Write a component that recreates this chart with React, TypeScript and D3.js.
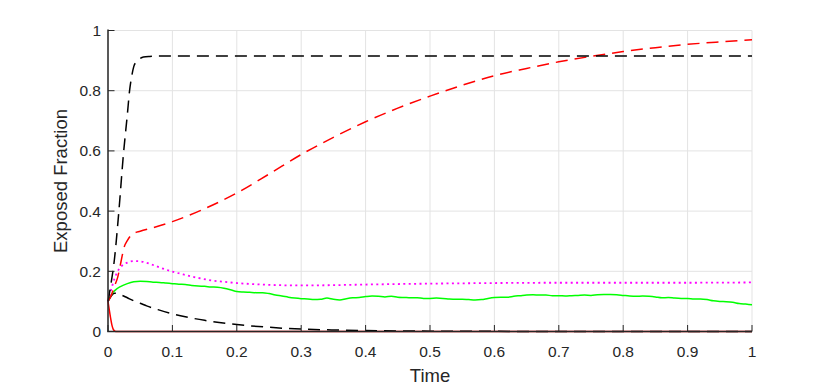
import * as d3 from "d3";

// each series: [time, exposed fraction]
const blackRise: [number, number][] = [
  [0, 0.1], [0.004, 0.15], [0.01, 0.24], [0.0165, 0.39], [0.024, 0.59], [0.03, 0.72],
  [0.0335, 0.8], [0.037, 0.85], [0.04, 0.88], [0.045, 0.898], [0.05, 0.907], [0.055, 0.912],
  [0.065, 0.914], [0.08, 0.915], [1, 0.915],
];

const redRise: [number, number][] = [
  [0, 0.1], [0.005, 0.12], [0.01, 0.15], [0.015, 0.18], [0.02, 0.23], [0.025, 0.28],
  [0.03, 0.302], [0.035, 0.318], [0.04, 0.326], [0.05, 0.333], [0.07, 0.345], [0.1, 0.365],
  [0.15, 0.408], [0.2, 0.46], [0.25, 0.523], [0.3, 0.588], [0.35, 0.645], [0.4, 0.697],
  [0.45, 0.742], [0.5, 0.782], [0.55, 0.818], [0.6, 0.85], [0.65, 0.874], [0.7, 0.896],
  [0.75, 0.914], [0.8, 0.93], [0.85, 0.943], [0.9, 0.954], [0.95, 0.962], [1, 0.969],
];

const magenta: [number, number][] = [
  [0, 0.1], [0.005, 0.14], [0.01, 0.175], [0.015, 0.2], [0.02, 0.215], [0.03, 0.229],
  [0.04, 0.234], [0.05, 0.233], [0.06, 0.228], [0.07, 0.221], [0.08, 0.213], [0.1, 0.199],
  [0.12, 0.188], [0.14, 0.178], [0.16, 0.17], [0.18, 0.165], [0.2, 0.161], [0.22, 0.158],
  [0.25, 0.155], [0.3, 0.153], [0.35, 0.154], [0.4, 0.156], [0.5, 0.159], [0.6, 0.161],
  [0.7, 0.162], [0.8, 0.162], [0.9, 0.162], [1, 0.163],
];

const greenT = [
  0, 0.005, 0.01, 0.02, 0.03, 0.04, 0.05, 0.06, 0.07, 0.08, 0.09, 0.1, 0.11, 0.12, 0.13, 0.14,
  0.15, 0.16, 0.17, 0.18, 0.19, 0.2, 0.21, 0.22, 0.23, 0.24, 0.25, 0.26, 0.27, 0.28, 0.29, 0.3,
  0.31, 0.32, 0.33, 0.34, 0.35, 0.36, 0.37, 0.38, 0.39, 0.4, 0.41, 0.42, 0.43, 0.44, 0.45, 0.46,
  0.47, 0.48, 0.49, 0.5, 0.51, 0.52, 0.53, 0.54, 0.55, 0.56, 0.57, 0.58, 0.59, 0.6, 0.61, 0.62,
  0.63, 0.64, 0.65, 0.66, 0.67, 0.68, 0.69, 0.7, 0.71, 0.72, 0.73, 0.74, 0.75, 0.76, 0.77, 0.78,
  0.79, 0.8, 0.81, 0.82, 0.83, 0.84, 0.85, 0.86, 0.87, 0.88, 0.89, 0.9, 0.91, 0.92, 0.93, 0.94,
  0.95, 0.96, 0.97, 0.98, 0.99, 1,
];
const greenV = [
  0.1, 0.122, 0.135, 0.15, 0.159, 0.165, 0.167, 0.166, 0.164, 0.163, 0.161, 0.159, 0.157, 0.156,
  0.153, 0.151, 0.15, 0.148, 0.147, 0.144, 0.139, 0.133, 0.131, 0.13, 0.129, 0.129, 0.126, 0.121,
  0.118, 0.114, 0.111, 0.109, 0.108, 0.106, 0.107, 0.111, 0.107, 0.105, 0.109, 0.112, 0.113,
  0.116, 0.118, 0.117, 0.115, 0.117, 0.114, 0.113, 0.112, 0.112, 0.11, 0.11, 0.111, 0.11, 0.108,
  0.107, 0.107, 0.106, 0.105, 0.106, 0.11, 0.113, 0.114, 0.114, 0.117, 0.119, 0.121, 0.122,
  0.121, 0.121, 0.119, 0.119, 0.118, 0.119, 0.12, 0.121, 0.12, 0.122, 0.123, 0.123, 0.122, 0.12,
  0.118, 0.117, 0.118, 0.117, 0.115, 0.112, 0.113, 0.111, 0.11, 0.11, 0.108, 0.108, 0.106, 0.102,
  0.1, 0.099, 0.097, 0.093, 0.091, 0.089,
];

const blackDecay: [number, number][] = [
  [0, 0.1], [0.005, 0.118], [0.01, 0.127], [0.015, 0.126], [0.02, 0.122], [0.03, 0.112],
  [0.04, 0.102], [0.05, 0.094], [0.06, 0.085], [0.08, 0.071], [0.1, 0.059], [0.12, 0.049],
  [0.15, 0.037], [0.2, 0.023], [0.25, 0.014], [0.3, 0.008], [0.35, 0.005], [0.4, 0.003],
  [0.5, 0.0012], [0.6, 0.0005], [0.8, 0.0001], [1, 0],
];

const redDecay: [number, number][] = [
  [0, 0.1], [0.002, 0.072], [0.004, 0.045], [0.006, 0.022], [0.008, 0.008], [0.01, 0.002],
  [0.012, 0], [1, 0],
];

const xTicks = [0, 0.1, 0.2, 0.3, 0.4, 0.5, 0.6, 0.7, 0.8, 0.9, 1];
const yTicks = [0, 0.2, 0.4, 0.6, 0.8, 1];

const W = 830, H = 390;
const margin = {top: 30.5, right: 78, bottom: 58.5, left: 108};
const axisColor = "#262626";
const font = "Helvetica, 'Liberation Sans', Arial, sans-serif";

export default function App() {
  const x = d3.scaleLinear().domain([0, 1]).range([margin.left, W - margin.right]);
  const y = d3.scaleLinear().domain([0, 1]).range([H - margin.bottom, margin.top]);
  const line = d3.line<[number, number]>()
    .x(d => x(d[0]))
    .y(d => y(d[1]))
    .curve(d3.curveMonotoneX);

  const green: [number, number][] = greenT.map((t, i) => [t, greenV[i]]);

  const series = [
    {data: redDecay, color: "#ff0000", dash: null, w: 1.5},
    {data: blackDecay, color: "#000000", dash: "12,7", w: 1.5},
    {data: green, color: "#00ff00", dash: null, w: 1.5},
    {data: magenta, color: "#ff00ff", dash: "2,3.4", w: 1.8},
    {data: redRise, color: "#ff0000", dash: "12,7", w: 1.5},
    {data: blackRise, color: "#000000", dash: "12,7", w: 1.5},
  ];

  const [x0, x1] = x.range();
  const [y0, y1] = y.range();

  return (
    <svg width={W} height={H} style={{position: "absolute", left: 0, top: 0}} fontFamily={font}>
      <rect width={W} height={H} fill="#fff"/>
      {/* grid */}
      {xTicks.map(t => (
        <line key={"gx" + t} x1={x(t)} x2={x(t)} y1={y0} y2={y1} stroke="#e3e3e3" strokeWidth={1}/>
      ))}
      {yTicks.map(t => (
        <line key={"gy" + t} x1={x0} x2={x1} y1={y(t)} y2={y(t)} stroke="#e3e3e3" strokeWidth={1}/>
      ))}

      {series.map((s, i) => (
        <path key={i} d={line(s.data) || ""} fill="none" stroke={s.color} strokeWidth={s.w}
              strokeDasharray={s.dash || undefined}/>
      ))}

      {/* axes */}
      <line x1={x0} x2={x0} y1={y0} y2={y1 - 1} stroke={axisColor} strokeWidth={1.5}/>
      <line x1={x0 - 0.75} x2={x1} y1={y0} y2={y0} stroke={axisColor} strokeWidth={1.5}/>
      {xTicks.map(t => (
        <g key={"xt" + t}>
          <line x1={x(t)} x2={x(t)} y1={y0} y2={y0 - 6.5} stroke={axisColor} strokeWidth={1}/>
          <text x={x(t)} y={y0 + 25} textAnchor="middle" fontSize={15.5} fill={axisColor}>{String(t)}</text>
        </g>
      ))}
      {yTicks.map(t => (
        <g key={"yt" + t}>
          <line x1={x0} x2={x0 + 6.5} y1={y(t)} y2={y(t)} stroke={axisColor} strokeWidth={1}/>
          <text x={x0 - 7} y={y(t) + 5.5} textAnchor="end" fontSize={15.5} fill={axisColor}>{String(t)}</text>
        </g>
      ))}

      <text x={(x0 + x1) / 2} y={H - 8} textAnchor="middle" fontSize={18.5} fill={axisColor}>Time</text>
      <text transform={`translate(67,${(y0 + y1) / 2}) rotate(-90)`} textAnchor="middle"
            fontSize={18.5} fill={axisColor}>Exposed Fraction</text>
    </svg>
  );
}
